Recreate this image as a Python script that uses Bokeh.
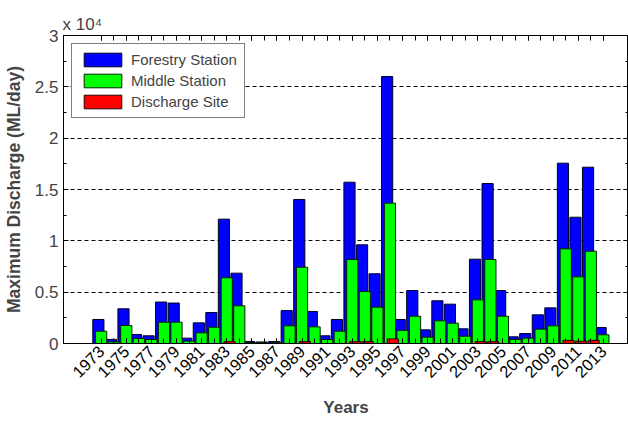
import math
from bokeh.plotting import figure
from bokeh.models import (ColumnDataSource, Range1d, FixedTicker, LinearAxis,
                          Legend, LegendItem)
from bokeh.transform import dodge
from bokeh.embed import file_html
from bokeh.resources import INLINE

years = list(range(1973, 2014))
forestry = [2340, 400, 3380, 880, 750, 4040, 3940, 520, 2010, 3020,
            12110, 6850, 200, 150, 200, 3210, 14030, 3120, 750, 2340,
            15710, 9610, 6790, 26000, 2340, 5160, 1330, 4160, 3830, 1430,
            8210, 15580, 5160, 650, 970, 2790, 3470, 17560, 12300, 17170, 1560]
middle = [1200, 150, 1750, 490, 390, 2080, 2080, 230, 1040, 1590,
          6400, 3670, 100, 80, 100, 1720, 7430, 1620, 390, 1200,
          8180, 5060, 3540, 13670, 1270, 2660, 620, 2210, 1980, 710,
          4250, 8180, 2660, 390, 520, 1400, 1720, 9220, 6490, 8990, 850]
discharge = [0, 0, 0, 0, 0, 0, 0, 0, 0, 0,
             180, 0, 0, 0, 0, 0, 180, 0, 0, 0,
             180, 180, 0, 450, 0, 0, 0, 0, 0, 0,
             180, 180, 0, 0, 0, 0, 0, 300, 220, 300, 0]
labeled_years = years[::2]
y_ticks = [0, 5000, 10000, 15000, 20000, 25000, 30000]
y_minor = [0, 2500, 5000, 7500, 10000, 12500, 15000, 17500, 20000, 22500, 25000, 27500, 30000]
y_tick_labels = ["0", "0.5", "1", "1.5", "2", "2.5", "3"]
series_names = ["Forestry Station", "Middle Station", "Discharge Site"]

FONT = "Liberation Sans"

src = ColumnDataSource(dict(year=years, forestry=forestry, middle=middle, discharge=discharge))

p = figure(width=628, height=421, output_backend="svg", toolbar_location=None,
           x_range=Range1d(1970, 2015), y_range=Range1d(0, 30000),
           min_border_left=63, min_border_right=0, min_border_top=35, min_border_bottom=78)
p.background_fill_color = "white"
p.border_fill_color = "white"
p.outline_line_color = "black"
p.outline_line_width = 1

# exponent shown as in the original "x 10^4"
p.title.text = "x 10\u2074"
p.title.align = "left"
p.title.text_font = FONT
p.title.text_font_size = "17px"
p.title.text_font_style = "normal"
p.title.standoff = 4
p.title.offset = -1

off = 0.222
w = 0.889
r1 = p.vbar(x=dodge("year", -off, range=p.x_range), width=w, top="forestry", bottom=0, source=src,
            fill_color="#0000FF", line_color="#000022", line_width=1)
r2 = p.vbar(x=dodge("year", 0, range=p.x_range), width=w, top="middle", bottom=0, source=src,
            fill_color="#00FF00", line_color="#002200", line_width=1)
r3 = p.vbar(x=dodge("year", off, range=p.x_range), width=w, top="discharge", bottom=0, source=src,
            fill_color="#FF0000", line_color="#220000", line_width=1)

# grids
p.xgrid.visible = False
p.ygrid.ticker = FixedTicker(ticks=y_ticks)
p.ygrid.grid_line_color = "black"
p.ygrid.grid_line_dash = "4 3"
p.ygrid.grid_line_width = 1

# x axis: labels every 2 years, ticks every year
xa = p.xaxis[0]
xa.ticker = FixedTicker(ticks=labeled_years, minor_ticks=years)
xa.major_tick_in = 5
xa.major_tick_out = 0
xa.minor_tick_in = 5
xa.minor_tick_out = 0
xa.minor_tick_line_color = "black"
xa.major_label_orientation = math.pi / 4
xa.major_label_text_font = FONT
xa.major_label_text_font_size = "16.5px"
xa.major_label_text_color = "black"
xa.major_label_standoff = 5
xa.axis_label = "Years"
xa.axis_label_text_font = FONT
xa.axis_label_text_font_size = "17px"
xa.axis_label_text_font_style = "bold"
xa.axis_label_standoff = 12
xa.axis_line_color = "black"

# y axis
ya = p.yaxis[0]
ya.ticker = FixedTicker(ticks=y_ticks, minor_ticks=y_minor)
ya.major_label_overrides = {t: l for t, l in zip(y_ticks, y_tick_labels)}
ya.major_tick_in = 5
ya.major_tick_out = 0
ya.minor_tick_in = 3
ya.minor_tick_out = 0
ya.major_label_text_font = FONT
ya.major_label_text_font_size = "17px"
ya.major_label_standoff = 5
ya.axis_label = "Maximum Discharge (ML/day)"
ya.axis_label_text_font = FONT
ya.axis_label_text_font_size = "17.5px"
ya.axis_label_text_font_style = "bold"
ya.axis_label_standoff = 8
ya.axis_line_color = "black"

# mirrored tick axes (top and right), labels not drawn
top_ax = LinearAxis(ticker=FixedTicker(ticks=labeled_years, minor_ticks=years),
                    major_tick_in=5, major_tick_out=0, minor_tick_in=5, minor_tick_out=0,
                    minor_tick_line_color="black",
                    major_label_text_font_size="1px", major_label_text_color=None,
                    major_label_standoff=0, axis_line_color="black")
right_ax = LinearAxis(ticker=FixedTicker(ticks=y_ticks, minor_ticks=y_minor),
                      major_tick_in=5, major_tick_out=0, minor_tick_in=3, minor_tick_out=0,
                      major_label_text_font_size="1px", major_label_text_color=None,
                      major_label_standoff=0, axis_line_color="black")
p.add_layout(top_ax, "above")
p.add_layout(right_ax, "right")

legend = Legend(items=[LegendItem(label=series_names[0], renderers=[r1]),
                       LegendItem(label=series_names[1], renderers=[r2]),
                       LegendItem(label=series_names[2], renderers=[r3])],
                location="top_left", margin=8, padding=7, spacing=4,
                glyph_width=47, glyph_height=17, label_height=17, label_standoff=5,
                label_text_font=FONT, label_text_font_size="15px",
                border_line_color="black", border_line_width=1,
                background_fill_color="white", background_fill_alpha=1)
p.add_layout(legend, "center")

open("out.html", "w").write(file_html(p, INLINE))
